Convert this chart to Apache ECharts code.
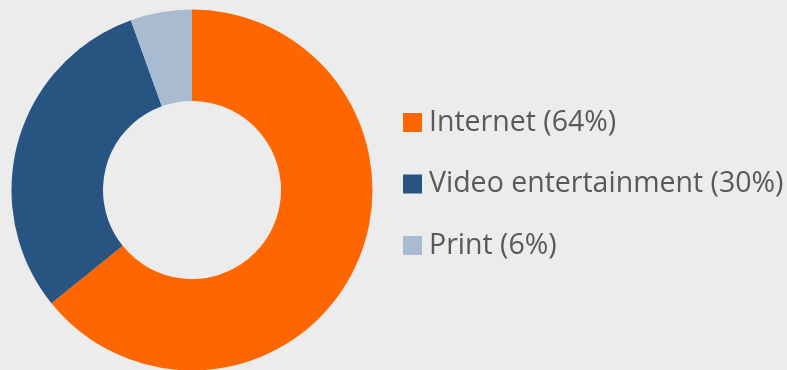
<!DOCTYPE html>
<html>
<head>
<meta charset="utf-8">
<script src="https://cdn.jsdelivr.net/npm/echarts@6/dist/echarts.min.js"></script>
<style>
html,body{margin:0;padding:0;background:#ececec;}
#chart{width:787px;height:370px;}
</style>
</head>
<body>
<div id="chart"></div>
<script>
var categories = ['Internet', 'Video entertainment', 'Print'];
var shares = [64.2, 30.3, 5.5];
var colors = ['#ff6600', '#285482', '#a9bbd0'];

var chart = echarts.init(document.getElementById('chart'));
var data = categories.map(function (c, i) {
  return { name: c, value: shares[i], itemStyle: { color: colors[i] } };
});
chart.setOption({
  backgroundColor: '#ececec',
  animation: false,
  legend: {
    orient: 'vertical',
    left: 403,
    top: 108,
    padding: 0,
    itemWidth: 19,
    itemHeight: 19,
    itemGap: 32.5,
    icon: 'rect',
    selectedMode: false,
    formatter: function (name) {
      var i = categories.indexOf(name);
      return name + ' (' + Math.round(shares[i]) + '%)';
    },
    textStyle: {
      fontFamily: 'Open Sans',
      fontSize: 28.5,
      lineHeight: 28.5,
      color: '#595959',
      padding: [0, 0, 0, 2]
    }
  },
  series: [{
    type: 'pie',
    center: [192, 190],
    radius: [89, 180.5],
    startAngle: 90,
    clockwise: true,
    silent: true,
    label: { show: false },
    labelLine: { show: false },
    itemStyle: { borderWidth: 0 },
    data: data
  }]
});
</script>
</body>
</html>
